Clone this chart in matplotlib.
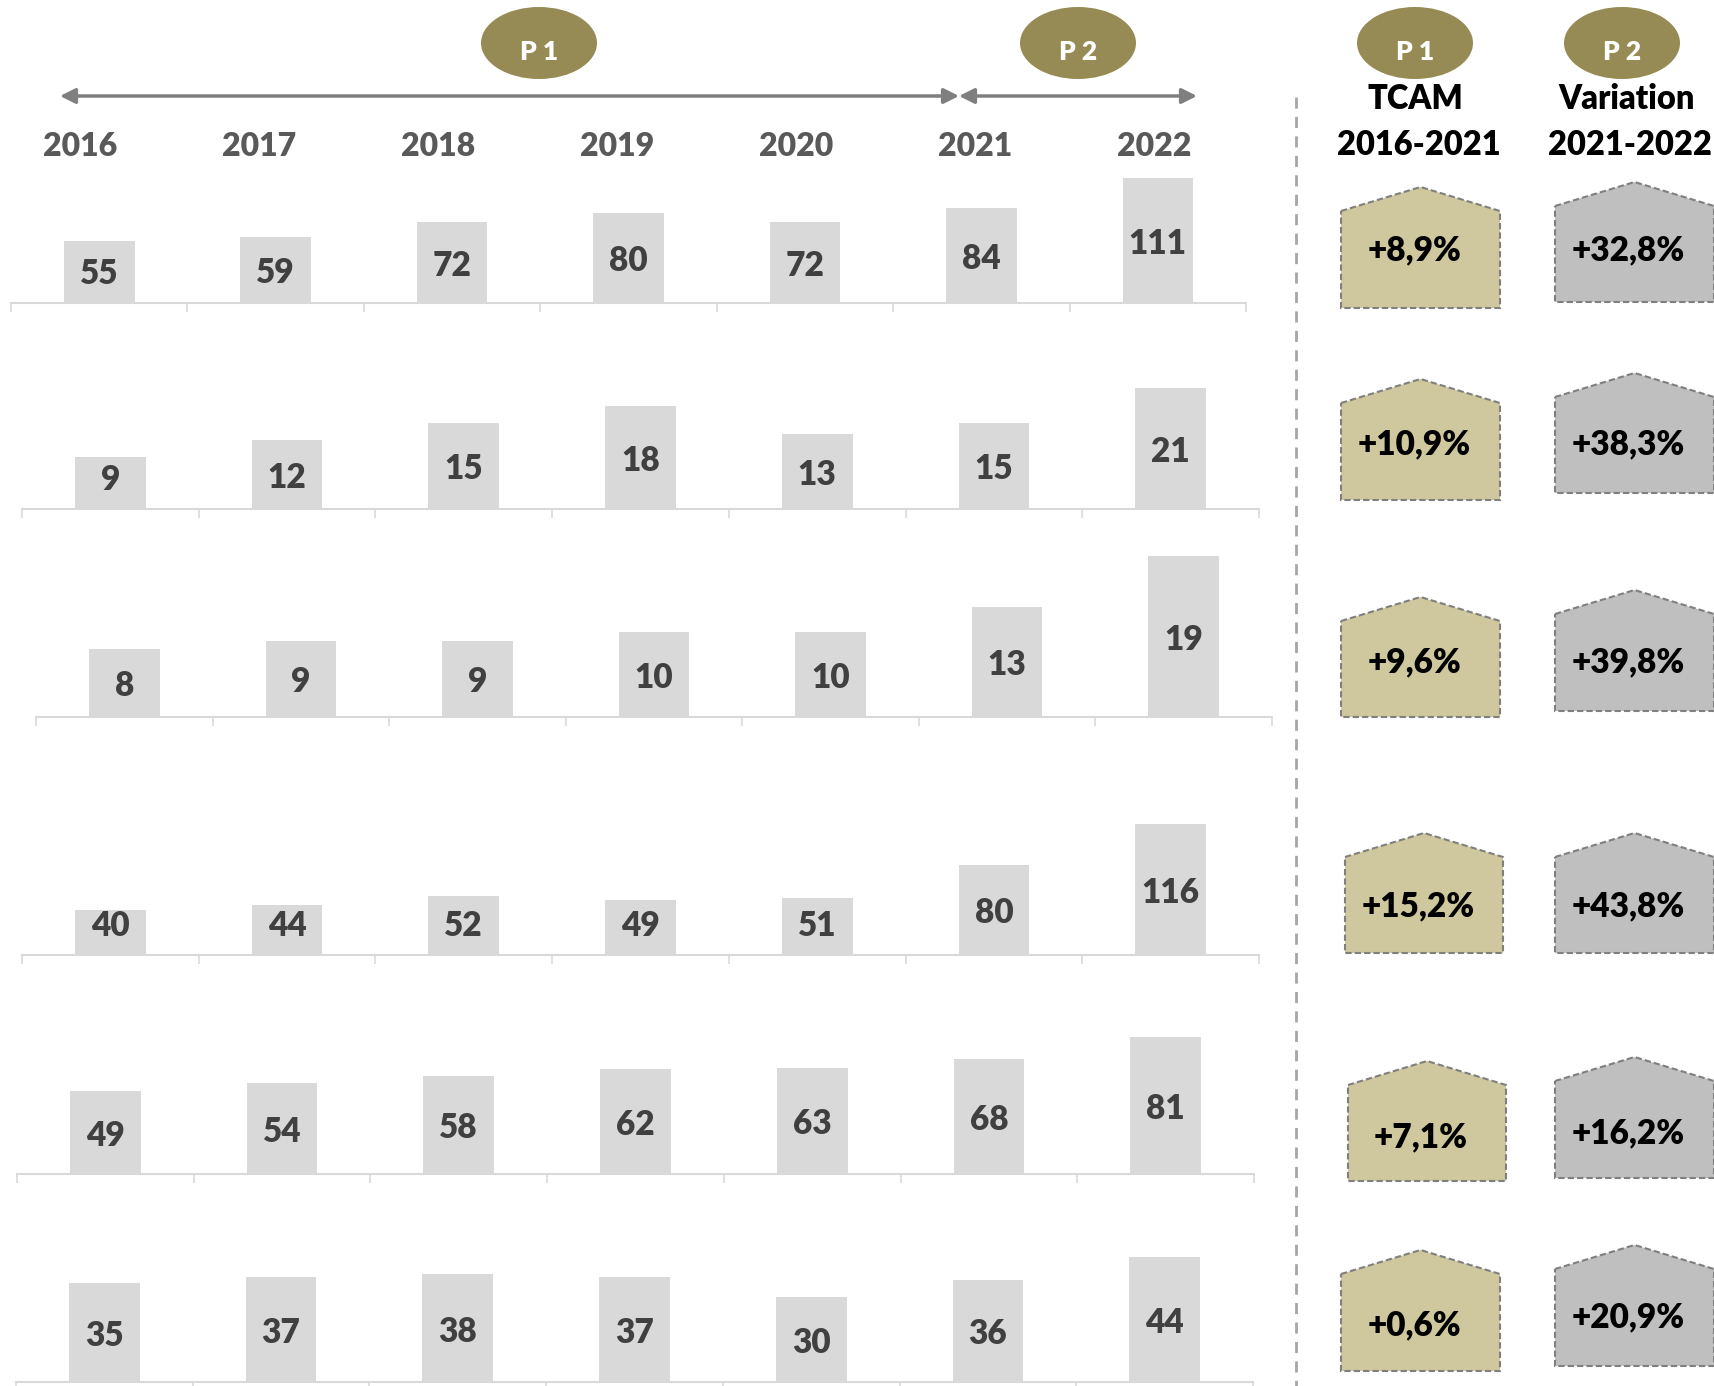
import matplotlib
matplotlib.use("Agg")
import matplotlib.pyplot as plt
import numpy as np
from matplotlib.patches import Ellipse, Polygon

plt.rcParams["font.family"] = ["Lato", "DejaVu Sans"]
BOLD = "heavy"

# ── data ──────────────────────────────────────────────────────────────
YEARS = ["2016", "2017", "2018", "2019", "2020", "2021", "2022"]
ROW1 = [55, 59, 72, 80, 72, 84, 111]
ROW2 = [9, 12, 15, 18, 13, 15, 21]
ROW3 = [8, 9, 9, 10, 10, 13, 19]
ROW4 = [40, 44, 52, 49, 51, 80, 116]
ROW5 = [49, 54, 58, 62, 63, 68, 81]
ROW6 = [35, 37, 38, 37, 30, 36, 44]
ROWS = [ROW1, ROW2, ROW3, ROW4, ROW5, ROW6]
TCAM = [8.9, 10.9, 9.6, 15.2, 7.1, 0.6]        # P1, 2016-2021
VARIATION = [32.8, 38.3, 39.8, 43.8, 16.2, 20.9]  # P2, 2021-2022

# ── layout (pixels in the 1714x1386 canvas) ──────────────────────────
W, H = 1714, 1386
# per row: x start, x end, baseline y, px per unit
ROW_GEOM = [(11, 1246, 303, 1.126),
            (22, 1259, 509, 5.74),
            (36, 1272, 717, 8.5),
            (22, 1259, 955, 1.126),
            (17, 1254, 1174, 1.69),
            (16, 1253, 1382, 2.84)]
# house shapes: (x0, x1, top, bottom, text y) for P1 and P2 columns
HOUSE_P1 = [(1341, 1500, 187, 308, 250), (1341, 1500, 379, 500, 444),
            (1341, 1500, 597, 717, 662), (1345, 1503, 833, 953, 906),
            (1348, 1506, 1061, 1181, 1137), (1341, 1500, 1250, 1371, 1325)]
HOUSE_P2 = [(1555, 1714, 182, 302, 250), (1555, 1714, 373, 493, 444),
            (1555, 1714, 590, 711, 662), (1555, 1714, 833, 953, 906),
            (1555, 1714, 1057, 1178, 1133), (1555, 1714, 1245, 1366, 1317)]

BAR_C = "#D9D9D9"
LAB_C = "#404040"
OLIVE = "#968B55"
TAN = "#CFC79D"
GREY = "#BFBFBF"

fig = plt.figure(figsize=(W / 100, H / 100), dpi=100)
fig.patch.set_facecolor("white")

AX_H = 175  # px height of each bar axes
for vals, (x0, x1, base, scale) in zip(ROWS, ROW_GEOM):
    ax = fig.add_axes([x0 / W, (H - base) / H, (x1 - x0) / W, AX_H / H])
    ax.set_facecolor("none")
    xs = np.arange(len(vals))
    ax.bar(xs, vals, width=0.4, color=BAR_C, clip_on=False, zorder=2)
    ax.set_xlim(-0.5, len(vals) - 0.5)
    ax.set_ylim(0, AX_H / scale)
    min_lab = 33 / scale
    for x, v in zip(xs, vals):
        ax.text(x, max(v / 2, min_lab) - 3.5 / scale, f"{v}", ha="center", va="center",
                fontsize=24, fontweight=BOLD, color=LAB_C, zorder=3)
    for s in ("top", "right", "left"):
        ax.spines[s].set_visible(False)
    ax.spines["bottom"].set_color(BAR_C)
    ax.spines["bottom"].set_linewidth(1.5)
    ax.set_yticks([])
    ax.set_xticks(np.arange(-0.5, len(vals), 1.0))
    ax.set_xticklabels([])
    ax.tick_params(axis="x", length=6.5, width=1.2, color=BAR_C, direction="out")

# ── overlay in pixel coordinates for annotations ─────────────────────
ov = fig.add_axes([0, 0, 1, 1])
ov.set_xlim(0, W)
ov.set_ylim(H, 0)
ov.axis("off")
ov.set_facecolor("none")

# year header
for i, y in enumerate(YEARS):
    ov.text(80 + i * 179, 146, y, ha="center", va="center", fontsize=23,
            fontweight=BOLD, color="#595959")

# period arrows
akw = dict(arrowstyle="<|-|>,head_length=0.9,head_width=0.45", color="#7F7F7F",
           lw=2.5, shrinkA=0, shrinkB=0)
ov.annotate("", xy=(60, 96), xytext=(959, 96), arrowprops=akw)
ov.annotate("", xy=(959, 96), xytext=(1197, 96), arrowprops=akw)

# period ellipses
for cx, lab in [(539, "P 1"), (1078, "P 2"), (1415, "P 1"), (1622, "P 2")]:
    ov.add_patch(Ellipse((cx, 43), 116, 72, facecolor=OLIVE, edgecolor="none"))
    ov.text(cx, 52, lab, ha="center", va="center", fontsize=19,
            fontweight=BOLD, color="white")

# right-hand headers
hkw = dict(ha="center", va="center", fontsize=23.5, fontweight=BOLD, color="black")
ov.text(1415, 99, "TCAM", **hkw)
ov.text(1419, 145, "2016-2021", **hkw)
ov.text(1627, 99, "Variation", **hkw)
ov.text(1630, 145, "2021-2022", **hkw)

# dashed separator
ov.plot([1296, 1296], [97, H], color="#A6A6A6", lw=2, ls=(0, (4, 3)))


def house(x0, x1, top, bot, ty, fill, txt):
    roof = 24
    pts = [(x0, top + roof), ((x0 + x1) / 2, top), (x1, top + roof), (x1, bot), (x0, bot)]
    ov.add_patch(Polygon(pts, closed=True, facecolor=fill, edgecolor="#7F7F7F",
                         lw=1.5, ls=(0, (3, 1.5))))
    ov.text((x0 + x1) / 2 - 6, ty, txt, ha="center", va="center",
            fontsize=24, fontweight=BOLD, color="black")


def pct(v):
    return ("+" if v >= 0 else "") + f"{v:.1f}".replace(".", ",") + "%"


for g, v in zip(HOUSE_P1, TCAM):
    house(*g, TAN, pct(v))
for g, v in zip(HOUSE_P2, VARIATION):
    house(*g, GREY, pct(v))

fig.savefig("out.png", dpi=100)
